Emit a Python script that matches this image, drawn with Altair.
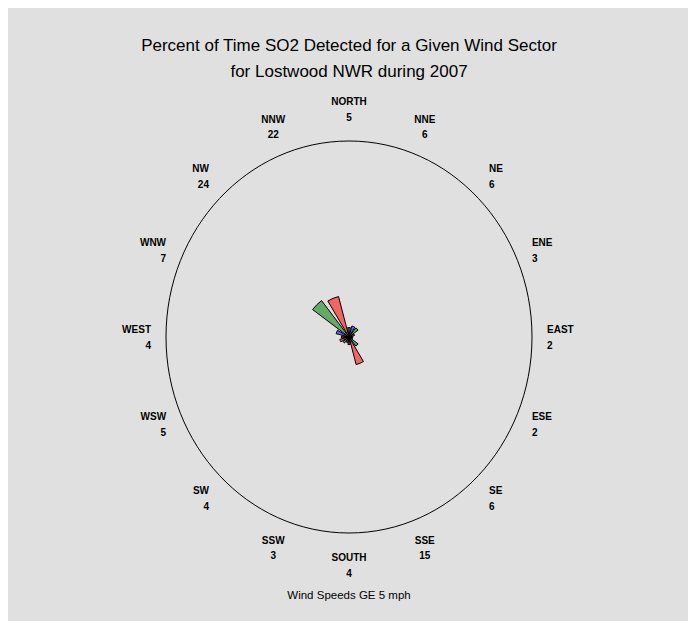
import math
import altair as alt
import pandas as pd

# ---- data ----
directions = ["NORTH", "NNE", "NE", "ENE", "EAST", "ESE", "SE", "SSE",
              "SOUTH", "SSW", "SW", "WSW", "WEST", "WNW", "NW", "NNW"]
percents = [5, 6, 6, 3, 2, 2, 6, 15, 4, 3, 4, 5, 4, 7, 24, 22]
pattern_colors = ["black", "blue", "green", "red"]
title_lines = ["Percent of Time SO2 Detected for a Given Wind Sector",
               "for Lostwood NWR during 2007"]
footnote = "Wind Speeds GE 5 mph"

# ---- layout / style constants ----
W, H = 680, 613
CX, CY = 341, 329          # center of rose in chart px
RX, RY = 183, 196          # outer circle radii (px)
LAB_X, LAB_Y = 1.082, 1.163  # label ellipse in circle units
PETAL_WIDTH = 16.0          # degrees
PETAL_PX_PER_100 = 190
LINE_H = 15.5
BG = "#e0e0e0"
FONT = "Liberation Sans"

align_for = []
for i in range(16):
    if 2 <= i <= 6:
        align_for.append("left")
    elif 10 <= i <= 14:
        align_for.append("right")
    else:
        align_for.append("center")

df = pd.DataFrame({
    "dir": directions,
    "pct": percents,
    "idx": list(range(16)),
    "color": [pattern_colors[i % 4] for i in range(16)],
    "label": [f"{d}\n{p}" for d, p in zip(directions, percents)],
    "align": align_for,
})
df["ang"] = df["idx"] * 22.5
df["t1"] = (df["ang"] - PETAL_WIDTH / 2) * math.pi / 180
df["t2"] = (df["ang"] + PETAL_WIDTH / 2) * math.pi / 180
df["lx"] = LAB_X * (df["ang"] * math.pi / 180).apply(math.sin)
df["ly"] = LAB_Y * (df["ang"] * math.pi / 180).apply(math.cos)
df["cx"] = 0.0
df["cy"] = 0.0

xs = alt.Scale(domain=[-1, 1], range=[CX - RX, CX + RX])
ys = alt.Scale(domain=[-1, 1], range=[CY + RY, CY - RY])

base = alt.Chart(df)

# outer circle (ellipse drawn as a symbol)
ratio = RX / RY
ell_path = (f"M {-ratio},0 A {ratio},1 0 1,0 {ratio},0 "
            f"A {ratio},1 0 1,0 {-ratio},0 Z")
circle = alt.Chart(pd.DataFrame({"cx": [0.0], "cy": [0.0]})).mark_point(
    shape=ell_path, filled=False, stroke="black", strokeWidth=1, opacity=1,
    size=(2 * RY) ** 2,
).encode(
    x=alt.X("cx:Q", scale=xs, axis=None),
    y=alt.Y("cy:Q", scale=ys, axis=None),
)

petals = base.mark_arc(stroke="black", strokeWidth=1, fillOpacity=0.55).encode(
    x=alt.X("cx:Q", scale=xs, axis=None),
    y=alt.Y("cy:Q", scale=ys, axis=None),
    theta=alt.Theta("t1:Q", scale=None),
    theta2=alt.Theta2("t2:Q"),
    radius=alt.Radius("pct:Q", scale=alt.Scale(type="linear", domain=[0, 100],
                                                range=[0, PETAL_PX_PER_100])),
    fill=alt.Fill("color:N", scale=None),
)

label_layers = []
for a in ["left", "center", "right"]:
    label_layers.append(
        base.transform_filter(alt.datum.align == a).mark_text(
            align=a, baseline="middle", lineBreak="\n", lineHeight=LINE_H,
            dy=-LINE_H / 2 + 1,
            font=FONT, fontSize=10, fontWeight="bold", color="black",
        ).encode(
            x=alt.X("lx:Q", scale=xs, axis=None),
            y=alt.Y("ly:Q", scale=ys, axis=None),
            text="label:N",
        )
    )

title_df = pd.DataFrame({"t": title_lines, "row": [0, 1]})
title = alt.Chart(title_df).mark_text(
    font=FONT, fontSize=17, color="black", align="center", baseline="middle",
).encode(
    x=alt.value(W / 2 + 1),
    y=alt.Y("row:Q", scale=alt.Scale(domain=[0, 1], range=[38, 64]), axis=None),
    text="t:N",
)

foot = alt.Chart(pd.DataFrame({"t": [footnote]})).mark_text(
    font=FONT, fontSize=11.5, color="black", align="center", baseline="middle",
).encode(
    x=alt.value(W / 2 + 1),
    y=alt.value(588),
    text="t:N",
)

chart = alt.layer(circle, petals, *label_layers, title, foot).resolve_scale(
    y="independent"
).properties(
    width=W, height=H, background=BG, padding=0,
    autosize=alt.AutoSizeParams(type="none"),
).configure_view(stroke=None)

chart.save("out.html", embed_options={"renderer": "svg", "actions": False})
